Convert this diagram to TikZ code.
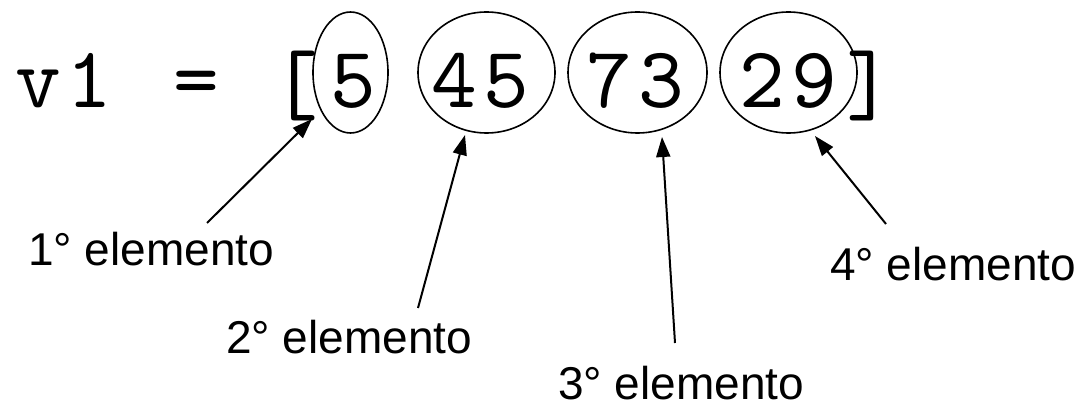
\documentclass[tikz,border=0pt]{standalone}
\usepackage{fontspec}
\setmainfont{Liberation Sans}
\newfontfamily\codefont{lmmono10-regular.otf}[LetterSpace=7]
\usetikzlibrary{arrows.meta,shapes.geometric}
\tikzset{
  code/.style={inner sep=0pt, anchor=base, font=\codefont\fontsize{87}{90}\selectfont},
  bracket/.style={inner sep=0pt, anchor=center, font=\codefont\fontsize{90}{92}\selectfont},
  elem/.style={draw, ellipse, line width=1.6pt, inner sep=0pt},
  label/.style={inner sep=0pt, anchor=base west, text depth=0pt, font=\fontsize{46}{50}\selectfont},
  pointer/.style={line width=2pt, -{Triangle[length=20pt, width=14pt]}}
}
\begin{document}
\begin{tikzpicture}[x=1pt, y=-1pt]
  \useasboundingbox (0,0) rectangle (1091,403);

  % the vector literal
  \node[code, anchor=base west] (name) at (15,108) {v1};
  \node[code] (eq) at (196,108) {=};
  \node[bracket] (lb) at (295,86) {[};
  \node[bracket] (rb) at (870,86) {]};

  % circled entries
  \node[elem, minimum width=75pt, minimum height=121pt] (e1) at (350.5,72.5) {};
  \node[elem, minimum width=137pt, minimum height=121pt] (e2) at (486.5,72.5) {};
  \node[elem, minimum width=139pt, minimum height=121pt] (e3) at (637.5,72.5) {};
  \node[elem, minimum width=137pt, minimum height=121pt] (e4) at (788.5,72.5) {};

  \node[code] (d1) at (353,108) {5};
  \node[code] (d2) at (480.5,108) {45};
  \node[code] (d3) at (635.5,108) {73};
  \node[code] (d4) at (788,108) {29};

  % captions
  \node[label] (l1) at (28,265) {1° elemento};
  \node[label] (l2) at (226,353) {2° elemento};
  \node[label] (l3) at (558,399) {3° elemento};
  \node[label] (l4) at (830,280) {4° elemento};

  % pointer ends
  \coordinate (s1) at (207,223);
  \coordinate (s2) at (418,308);
  \coordinate (s3) at (675,343);
  \coordinate (s4) at (886,224);
  \coordinate (t1) at (312,119);
  \coordinate (t2) at (465,135);
  \coordinate (t3) at (662,137);
  \coordinate (t4) at (815,136);

  \draw[pointer] (s1) -- (t1);
  \draw[pointer] (s2) -- (t2);
  \draw[pointer] (s3) -- (t3);
  \draw[pointer] (s4) -- (t4);
\end{tikzpicture}
\end{document}
